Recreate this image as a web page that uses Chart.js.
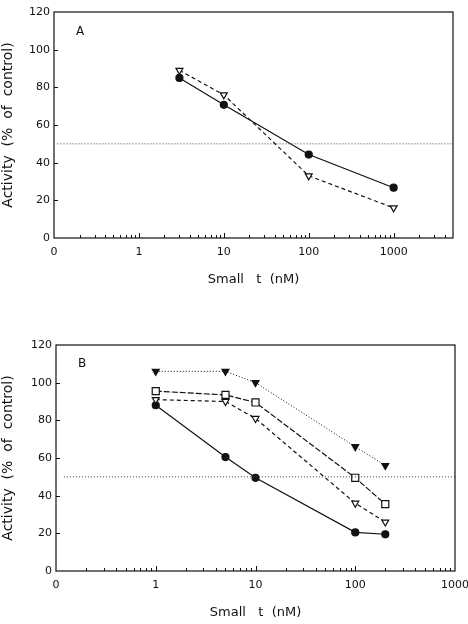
<!DOCTYPE html>
<html><head><meta charset="utf-8">
<script src="https://cdn.jsdelivr.net/npm/chart.js@4"></script>
<style>html,body{margin:0;padding:0;background:#fff;width:468px;height:624px;overflow:hidden;position:relative}
canvas{position:absolute;left:0}</style></head>
<body>
<canvas id="a" width="468" height="312" style="top:0"></canvas>
<canvas id="b" width="468" height="312" style="top:312px"></canvas>
<script>
// ---- data ----
const xTickValues = [0.1, 1, 10, 100, 1000];
const xTickLabels = ['0', '1', '10', '100', '1000'];
const yTickValues = [0, 20, 40, 60, 80, 100, 120];
const refLevel = 50;

const aConc = [3, 10, 100, 1000];
const aCircles = [85, 70.7, 44.3, 26.7];
const aOpenTri = [89, 76, 33, 16];

const bConc = [1, 5, 10, 100, 200];
const bFilledTri = [106, 106, 100, 66, 56];
const bSquares = [95.5, 93.5, 89.5, 49.5, 35.5];
const bOpenTri = [91, 90, 81, 36, 26];
const bCircles = [88, 60.5, 49.5, 20.5, 19.5];

const pts = (xs, ys) => xs.map((x, i) => ({x, y: ys[i]}));
const FONT = 'DejaVu Sans';
const INK = '#111';

const framePlugin = {
  id: 'frame',
  afterDraw(chart, args, opts) {
    const {ctx, chartArea: ca, scales: {x, y}} = chart;
    ctx.save();
    ctx.strokeStyle = INK;
    ctx.lineWidth = 1.2;
    ctx.strokeRect(ca.left, ca.top, ca.right - ca.left, ca.bottom - ca.top);
    ctx.lineWidth = 1;
    ctx.beginPath();
    for (let e = -1; e < 4; e++) {
      for (let m = 1; m < 10; m++) {
        const v = m * Math.pow(10, e);
        if (v <= x.min * 1.001 || v >= x.max * 0.999) continue;
        const px = Math.round(x.getPixelForValue(v)) + 0.5;
        const len = m === 1 ? 5 : 3;
        ctx.moveTo(px, ca.bottom);
        ctx.lineTo(px, ca.bottom - len);
      }
    }
    yTickValues.forEach(v => {
      if (v <= y.min || v >= y.max) return;
      const py = Math.round(y.getPixelForValue(v)) + 0.5;
      ctx.moveTo(ca.left, py);
      ctx.lineTo(ca.left + 4, py);
    });
    ctx.stroke();
    ctx.font = '12px "' + FONT + '"';
    ctx.fillStyle = INK;
    ctx.textAlign = 'left';
    ctx.textBaseline = 'middle';
    ctx.fillText(opts.label, ca.left + opts.dx, ca.top + opts.dy);
    ctx.restore();
  }
};

function lineDs(data, style, dash, filled, radius, width) {
  return {
    data,
    borderColor: INK,
    borderWidth: width || 1.2,
    borderDash: dash,
    pointStyle: style,
    pointRotation: style === 'triangle' ? 180 : 0,
    pointRadius: radius,
    pointBorderWidth: 1.2,
    pointBorderColor: INK,
    pointBackgroundColor: filled ? INK : '#fff',
    fill: false,
    tension: 0
  };
}

function refDs(x0, x1) {
  return {
    data: [{x: x0, y: refLevel}, {x: x1, y: refLevel}],
    borderColor: '#444',
    borderWidth: 1,
    borderDash: [1, 2],
    pointRadius: 0,
    fill: false
  };
}

function makeChart(id, cfg) {
  return new Chart(document.getElementById(id), {
    type: 'line',
    data: {datasets: cfg.datasets},
    options: {
      responsive: false,
      animation: false,
      devicePixelRatio: 1,
      layout: {padding: cfg.padding},
      plugins: {legend: {display: false}, tooltip: {enabled: false}, frame: {label: cfg.label, dx: 22, dy: cfg.labelDy}},
      scales: {
        x: {
          type: 'logarithmic', min: 0.1, max: cfg.xMax, position: 'bottom',
          grid: {display: false, drawTicks: false}, border: {display: false},
          afterBuildTicks: s => { s.ticks = xTickValues.map(v => ({value: v})); },
          ticks: {autoSkip: false, maxRotation: 0, minRotation: 0, padding: 8, color: INK,
            font: {family: FONT, size: 11},
            callback: v => xTickLabels[xTickValues.indexOf(v)]},
          title: {display: true, text: 'Small   t  (nM)', color: INK,
            font: {family: FONT, size: 13}, padding: {top: 0, bottom: 4}},
          afterFit: s => { s.height = 53; s.paddingLeft = 0; s.paddingRight = 0; }
        },
        y: {
          type: 'linear', min: 0, max: 120,
          grid: {display: false, drawTicks: false}, border: {display: false},
          afterBuildTicks: s => { s.ticks = yTickValues.map(v => ({value: v})); },
          ticks: {padding: 4, color: INK, font: {family: FONT, size: 11}},
          title: {display: true, text: 'Activity  (%  of  control)', color: INK,
            font: {family: FONT, size: 14}, padding: 0},
          afterFit: s => { s.width = cfg.yWidth; s.paddingTop = 0; s.paddingBottom = 0; }
        }
      }
    },
    plugins: [framePlugin]
  });
}

makeChart('a', {
  xMax: 5000, yWidth: 54, label: 'A', labelDy: 20,
  padding: {top: 12, right: 15, left: 0, bottom: 21},
  datasets: [
    refDs(0.11, 5000),
    lineDs(pts(aConc, aCircles), 'circle', [], true, 3.5),
    lineDs(pts(aConc, aOpenTri), 'triangle', [4, 3], false, 4)
  ]
});

makeChart('b', {
  xMax: 1000, yWidth: 56, label: 'B', labelDy: 19,
  padding: {top: 33, right: 13, left: 0, bottom: 0},
  datasets: [
    refDs(0.12, 1000),
    lineDs(pts(bConc, bFilledTri), 'triangle', [1, 2], true, 4, 1),
    lineDs(pts(bConc, bSquares), 'rect', [6, 2], false, 5),
    lineDs(pts(bConc, bOpenTri), 'triangle', [4, 3], false, 4),
    lineDs(pts(bConc, bCircles), 'circle', [], true, 3.5)
  ]
});
</script>
</body></html>
